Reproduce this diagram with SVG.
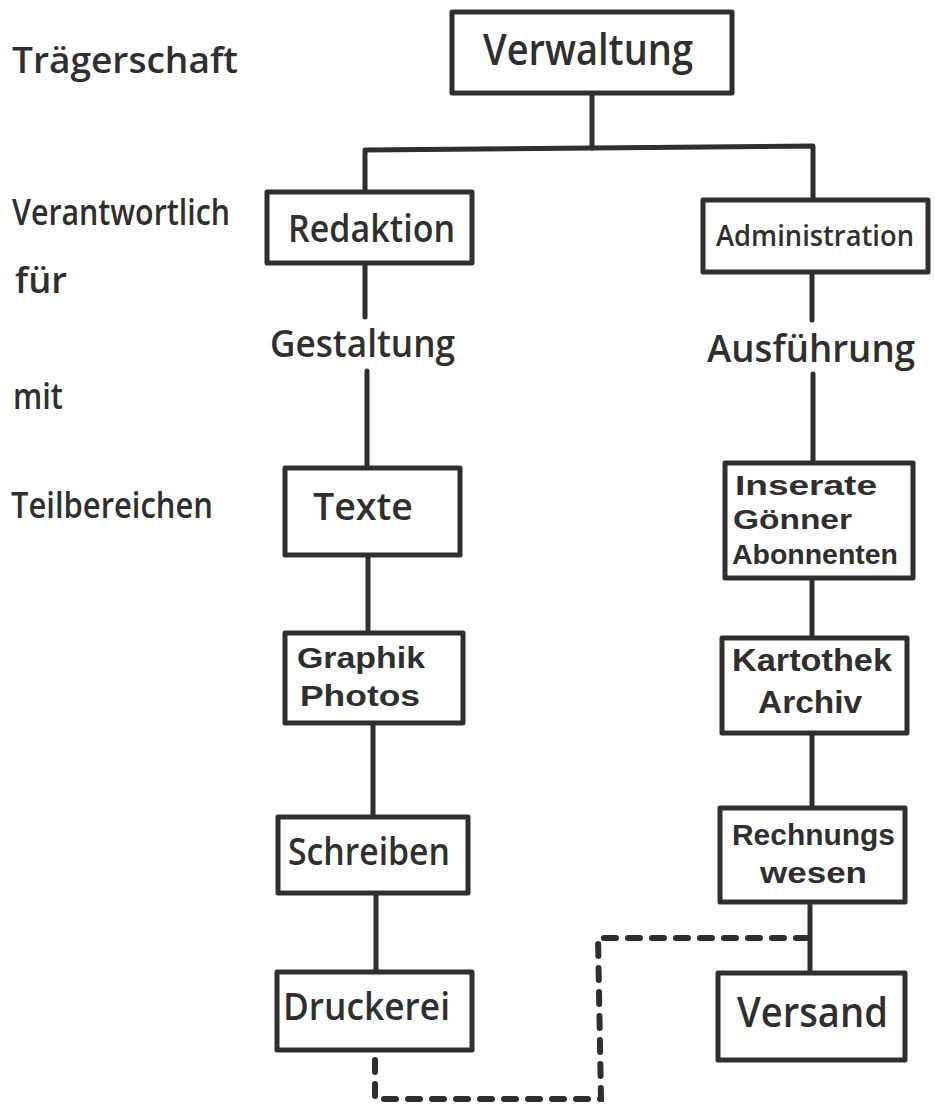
<svg xmlns="http://www.w3.org/2000/svg" width="935" height="1106" viewBox="0 0 935 1106">
<style>
.box{fill:#fff;stroke:#2f2f2f;stroke-width:5;stroke-linejoin:round}
.ln{fill:none;stroke:#2f2f2f;stroke-width:5;stroke-linecap:round;stroke-linejoin:round}
.dash{fill:none;stroke:#2f2f2f;stroke-width:6;stroke-linecap:round;stroke-dasharray:12 12}
text{font-family:"Open Sans","Noto Sans","Liberation Sans",sans-serif;fill:#2f2f2f;font-weight:600}
.l{font-size:36px}
.m{font-size:38px}
.s{font-family:"Liberation Sans",Arial,sans-serif;font-weight:bold;font-size:29px}
</style>
<rect width="935" height="1106" fill="#fff"/>
<g id="connectors">
<path class="ln" d="M592 93 L592 148"/>
<path class="ln" d="M365 192 L365 150 L592 148 L813 146 L813 200"/>
<path class="ln" d="M365 263 L365 317"/>
<path class="ln" d="M367 371 L367 468"/>
<path class="ln" d="M812 272 L812 320"/>
<path class="ln" d="M813 374 L813 463"/>
<path class="ln" d="M368 555 L368 633"/>
<path class="ln" d="M373 723 L373 817"/>
<path class="ln" d="M376 893 L376 972"/>
<path class="ln" d="M812 578 L812 638"/>
<path class="ln" d="M812 733 L812 808"/>
<path class="ln" d="M810 902 L810 973"/>
<path class="dash" d="M375 1060 L375 1099 L601 1099 L598 938 L808 938"/>
</g>
<g id="labels">
<text class="l" x="12" y="73" textLength="226" lengthAdjust="spacingAndGlyphs">Trägerschaft</text>
<text class="l" x="12" y="225" textLength="218" lengthAdjust="spacingAndGlyphs">Verantwortlich</text>
<text class="l" x="15" y="293" textLength="52" lengthAdjust="spacingAndGlyphs">für</text>
<text class="l" x="13" y="409" textLength="50" lengthAdjust="spacingAndGlyphs">mit</text>
<text class="l" x="11" y="518" textLength="202" lengthAdjust="spacingAndGlyphs">Teilbereichen</text>
</g>
<g id="verwaltung">
<rect class="box" x="452" y="12" width="280" height="81"/>
<text x="483" y="65" style="font-size:44px" textLength="210" lengthAdjust="spacingAndGlyphs">Verwaltung</text>
</g>
<g id="redaktion">
<rect class="box" x="267" y="192" width="205" height="71"/>
<text class="m" x="288" y="242" textLength="167" lengthAdjust="spacingAndGlyphs">Redaktion</text>
</g>
<g id="administration">
<rect class="box" x="703" y="200" width="225" height="72"/>
<text x="716" y="246" style="font-size:28px" textLength="198" lengthAdjust="spacingAndGlyphs">Administration</text>
</g>
<g id="gestaltung">
<text class="m" x="270" y="357" textLength="185" lengthAdjust="spacingAndGlyphs">Gestaltung</text>
</g>
<g id="ausfuehrung">
<text class="m" x="707" y="362" textLength="208" lengthAdjust="spacingAndGlyphs">Ausführung</text>
</g>
<g id="texte">
<rect class="box" x="285" y="468" width="175" height="87"/>
<text class="m" x="313" y="520" textLength="100" lengthAdjust="spacingAndGlyphs">Texte</text>
</g>
<g id="inserate">
<rect class="box" x="725" y="463" width="188" height="115"/>
<text class="s" x="735" y="495" style="font-size:28px" textLength="142" lengthAdjust="spacingAndGlyphs">Inserate</text>
<text class="s" x="733" y="529" style="font-size:28px" textLength="119" lengthAdjust="spacingAndGlyphs">Gönner</text>
<text class="s" x="732" y="564" style="font-size:28px" textLength="166" lengthAdjust="spacingAndGlyphs">Abonnenten</text>
</g>
<g id="graphik">
<rect class="box" x="285" y="633" width="178" height="90"/>
<text class="s" x="297" y="668" textLength="128" lengthAdjust="spacingAndGlyphs">Graphik</text>
<text class="s" x="300" y="706" textLength="120" lengthAdjust="spacingAndGlyphs">Photos</text>
</g>
<g id="kartothek">
<rect class="box" x="722" y="638" width="185" height="95"/>
<text class="s" x="732" y="671" style="font-size:31px" textLength="160" lengthAdjust="spacingAndGlyphs">Kartothek</text>
<text class="s" x="758" y="713" style="font-size:31px" textLength="104" lengthAdjust="spacingAndGlyphs">Archiv</text>
</g>
<g id="schreiben">
<rect class="box" x="278" y="817" width="190" height="76"/>
<text class="m" x="288" y="865" textLength="162" lengthAdjust="spacingAndGlyphs">Schreiben</text>
</g>
<g id="rechnungswesen">
<rect class="box" x="720" y="808" width="185" height="94"/>
<text class="s" x="732" y="845" textLength="163" lengthAdjust="spacingAndGlyphs">Rechnungs</text>
<text class="s" x="760" y="883" textLength="107" lengthAdjust="spacingAndGlyphs">wesen</text>
</g>
<g id="druckerei">
<rect class="box" x="277" y="972" width="195" height="78"/>
<text class="m" x="283" y="1020" textLength="167" lengthAdjust="spacingAndGlyphs">Druckerei</text>
</g>
<g id="versand">
<rect class="box" x="718" y="973" width="187" height="87"/>
<text x="737" y="1027" style="font-size:41px" textLength="151" lengthAdjust="spacingAndGlyphs">Versand</text>
</g>
</svg>
